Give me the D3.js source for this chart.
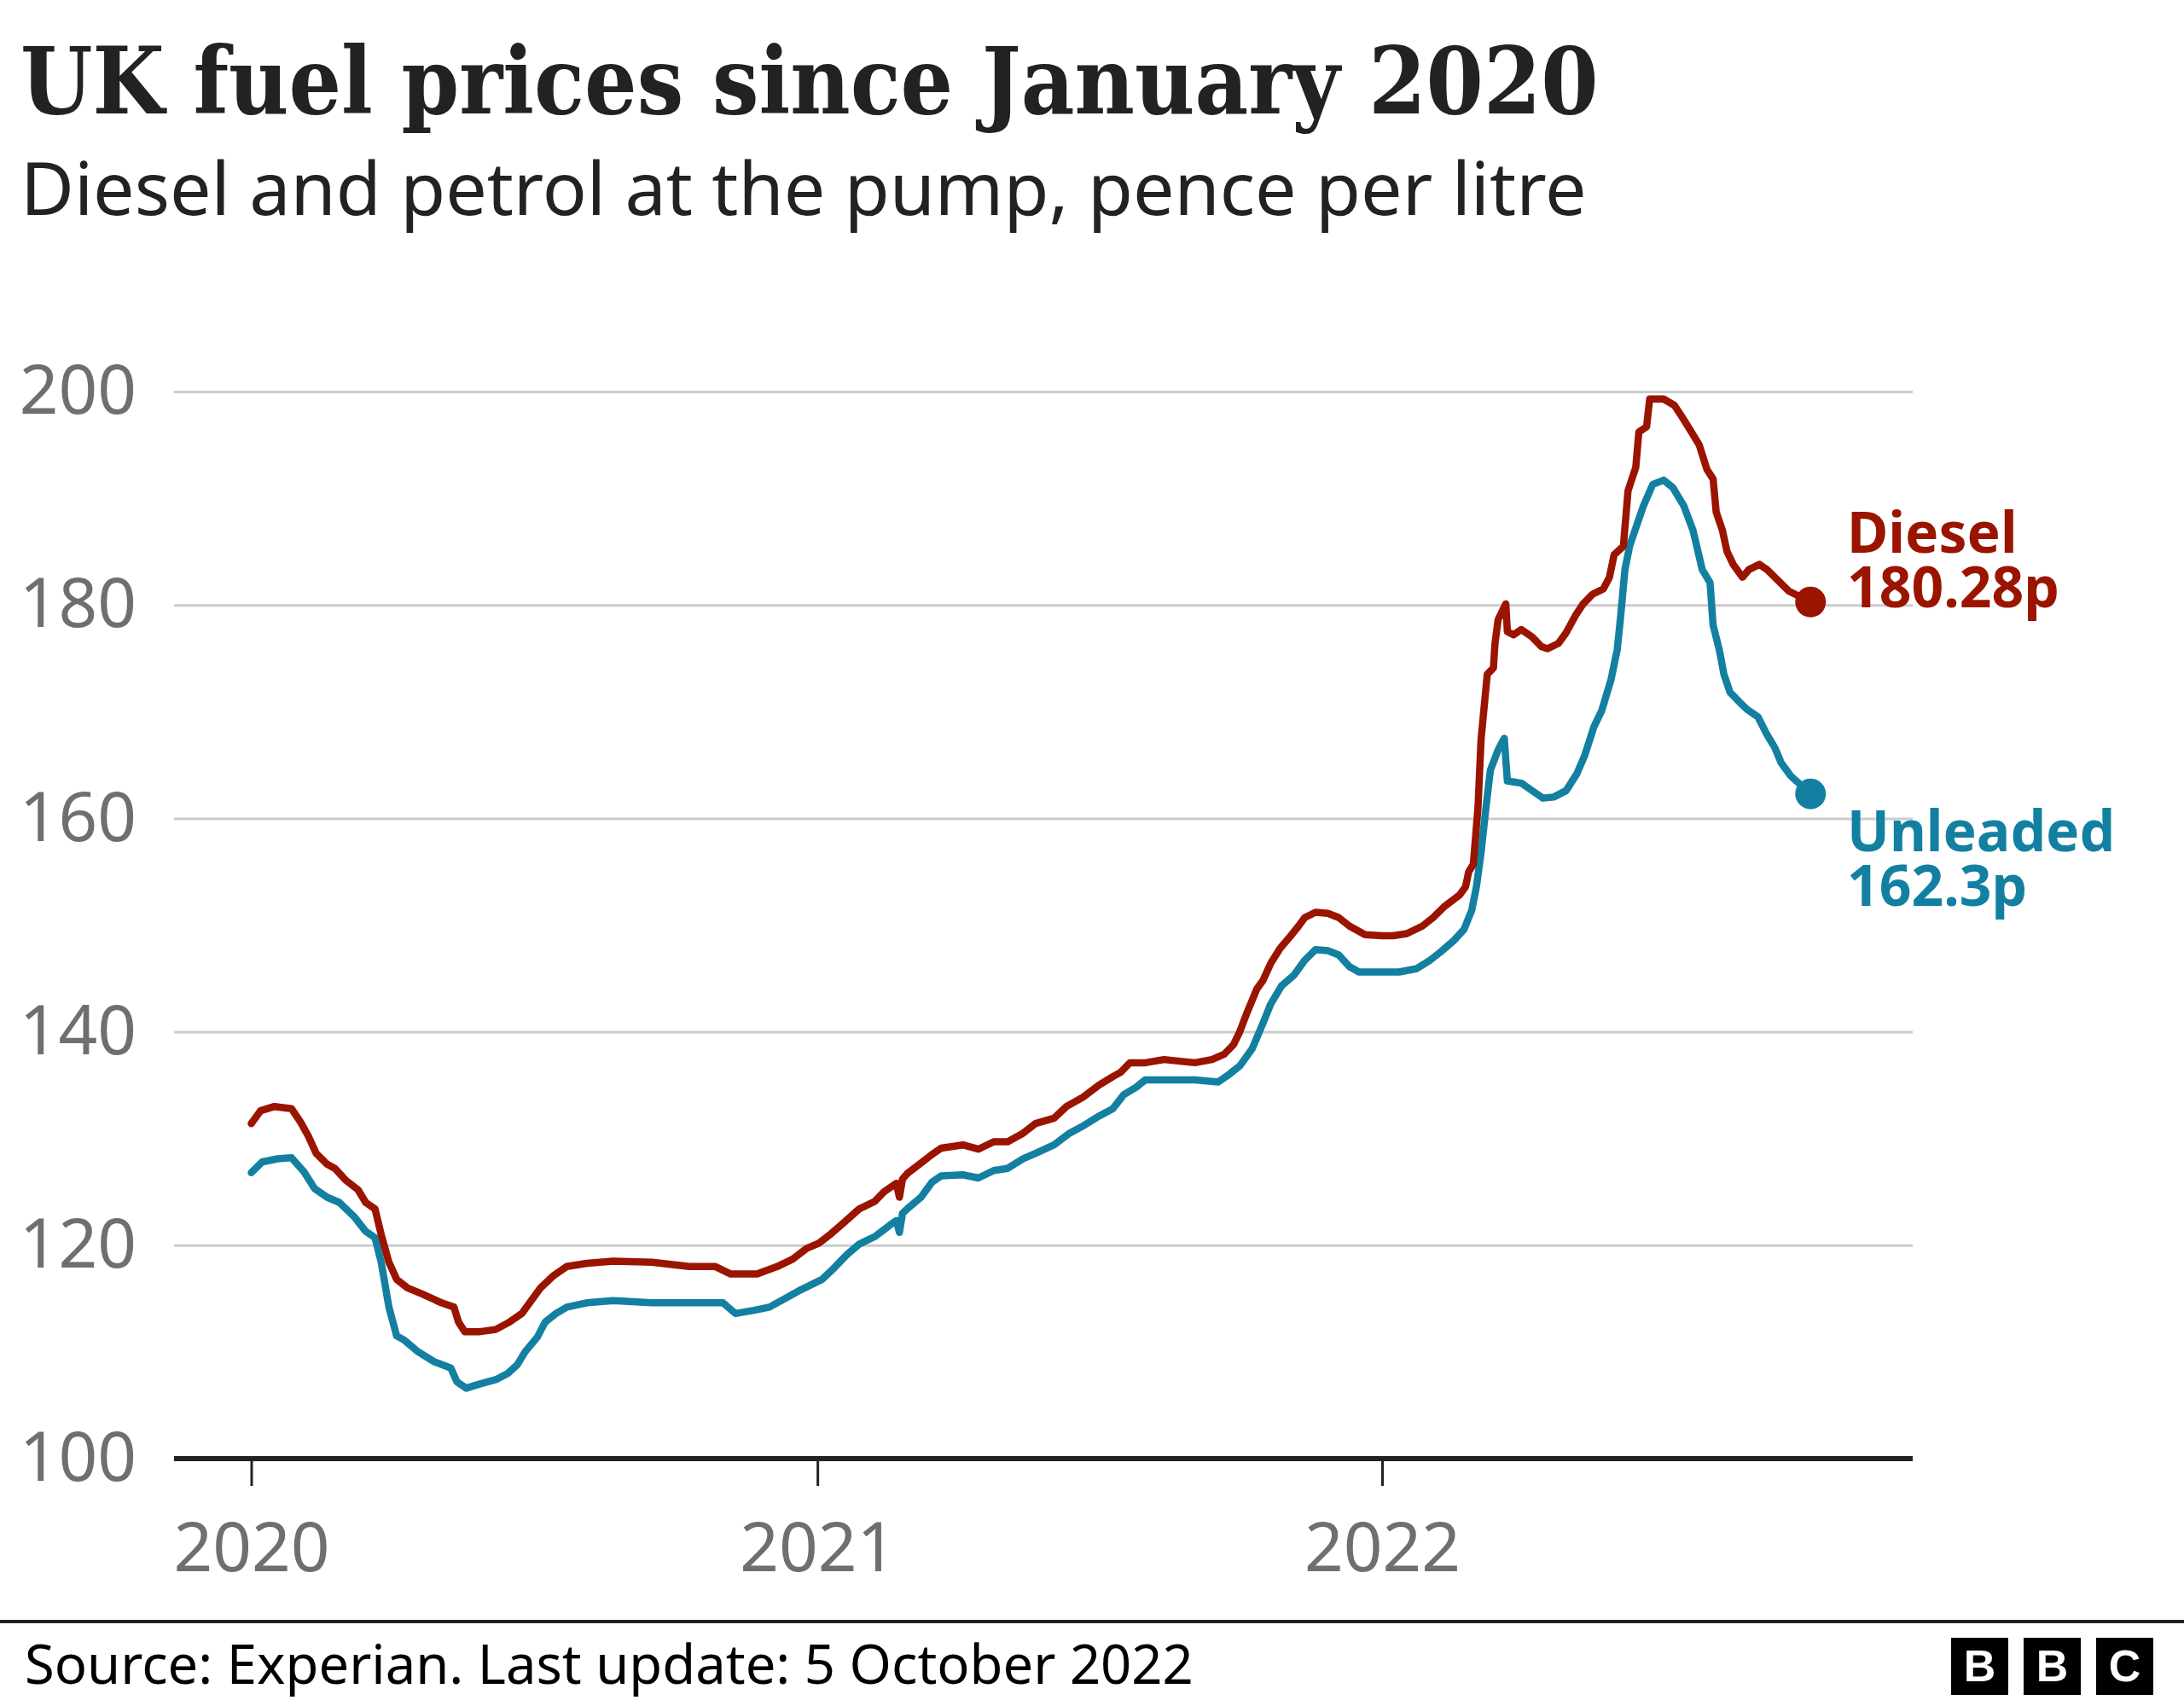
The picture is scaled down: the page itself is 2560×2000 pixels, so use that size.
<!DOCTYPE html>
<html><head><meta charset="utf-8">
<script src="https://cdn.jsdelivr.net/npm/d3@7"></script>
<style>body{margin:0;background:#fff}</style>
</head><body>
<svg id="c" width="2560" height="2000"></svg>
<script>
const dieselDates = ["2020-01-01","2020-01-07","2020-01-16","2020-01-27","2020-02-02","2020-02-07","2020-02-12","2020-02-19","2020-02-24","2020-03-02","2020-03-10","2020-03-15","2020-03-21","2020-03-25","2020-03-30","2020-04-04","2020-04-11","2020-04-21","2020-05-03","2020-05-11","2020-05-14","2020-05-18","2020-05-28","2020-06-07","2020-06-16","2020-06-24","2020-06-29","2020-07-06","2020-07-14","2020-07-23","2020-08-05","2020-08-22","2020-09-16","2020-10-10","2020-10-27","2020-11-06","2020-11-23","2020-12-06","2020-12-16","2020-12-25",
"2021-01-02","2021-01-10","2021-01-18","2021-01-28","2021-02-07","2021-02-13","2021-02-21","2021-02-23","2021-02-25","2021-02-28","2021-03-09","2021-03-16","2021-03-22","2021-04-05","2021-04-15","2021-04-25","2021-05-04","2021-05-14","2021-05-22","2021-06-03","2021-06-11","2021-06-22","2021-07-02","2021-07-11","2021-07-16","2021-07-22","2021-08-01","2021-08-13","2021-09-02","2021-09-13","2021-09-21","2021-09-27","2021-10-01","2021-10-06","2021-10-12","2021-10-16","2021-10-21","2021-10-27","2021-11-03","2021-11-08","2021-11-12","2021-11-19","2021-11-27","2021-12-04","2021-12-11","2021-12-21",
"2022-01-01","2022-01-08","2022-01-17","2022-01-27","2022-02-03","2022-02-10","2022-02-20","2022-02-24","2022-02-26","2022-03-01","2022-03-04","2022-03-06","2022-03-10","2022-03-14","2022-03-15","2022-03-17","2022-03-20","2022-03-22","2022-03-23","2022-03-27","2022-04-01","2022-04-08","2022-04-14","2022-04-18","2022-04-25","2022-04-30","2022-05-06","2022-05-11","2022-05-17","2022-05-24","2022-05-28","2022-05-31","2022-06-06","2022-06-09","2022-06-14","2022-06-16","2022-06-21","2022-06-23","2022-07-02","2022-07-09","2022-07-14","2022-07-20","2022-07-25","2022-07-30","2022-08-03","2022-08-05","2022-08-09","2022-08-12","2022-08-16","2022-08-22","2022-08-26","2022-09-02","2022-09-07","2022-09-21","2022-10-05"];
const dieselPrices = [131.4,132.6,133.0,132.8,131.5,130.2,128.6,127.6,127.2,126.1,125.2,124.0,123.4,121.0,118.4,116.8,116.0,115.4,114.6,114.2,112.8,111.9,111.9,112.1,112.8,113.6,114.6,116.0,117.1,118.0,118.3,118.5,118.4,118.0,118.0,117.3,117.3,118.0,118.7,119.7,
120.2,121.1,122.1,123.4,124.1,125.0,125.8,124.5,126.2,126.7,127.7,128.5,129.1,129.4,129.0,129.7,129.7,130.5,131.4,131.9,133.0,133.9,135.0,135.8,136.2,137.1,137.1,137.4,137.1,137.4,137.9,138.8,140.0,141.9,144.0,144.8,146.4,147.8,149.0,149.9,150.7,151.2,151.1,150.7,149.9,149.1,
149.0,149.0,149.2,149.9,150.7,151.7,152.8,153.6,155.0,155.7,161.0,167.4,173.5,174.1,176.4,178.6,179.5,180.1,177.5,177.2,177.7,177.0,176.1,175.9,176.4,177.4,179.0,180.1,181.0,181.5,182.6,184.7,185.5,190.7,192.9,196.2,196.7,199.3,199.3,198.7,197.6,196.2,195.0,192.7,191.8,188.7,187.0,185.0,183.8,182.6,183.3,183.8,183.3,181.3,180.28];

const unleadedDates = ["2020-01-01","2020-01-08","2020-01-18","2020-01-27","2020-02-04","2020-02-11","2020-02-19","2020-02-27","2020-03-08","2020-03-15","2020-03-21","2020-03-25","2020-03-30","2020-04-04","2020-04-09","2020-04-18","2020-04-28","2020-05-09","2020-05-13","2020-05-19","2020-05-28","2020-06-07","2020-06-15","2020-06-21","2020-06-26","2020-07-04","2020-07-09","2020-07-16","2020-07-23","2020-08-05","2020-08-22","2020-09-16","2020-10-10","2020-11-01","2020-11-09","2020-11-21","2020-12-01","2020-12-11","2020-12-21",
"2021-01-04","2021-01-12","2021-01-20","2021-01-28","2021-02-07","2021-02-17","2021-02-21","2021-02-23","2021-02-25","2021-02-28","2021-03-09","2021-03-16","2021-03-22","2021-04-05","2021-04-15","2021-04-25","2021-05-04","2021-05-14","2021-05-22","2021-06-03","2021-06-13","2021-06-22","2021-07-02","2021-07-11","2021-07-18","2021-07-26","2021-08-01","2021-08-13","2021-09-02","2021-09-17","2021-09-24","2021-10-01","2021-10-09","2021-10-16","2021-10-21","2021-10-28","2021-11-05","2021-11-12","2021-11-19","2021-11-27","2021-12-04","2021-12-11","2021-12-17","2021-12-30",
"2022-01-12","2022-01-23","2022-02-01","2022-02-08","2022-02-16","2022-02-23","2022-02-28","2022-03-03","2022-03-06","2022-03-09","2022-03-12","2022-03-17","2022-03-21","2022-03-23","2022-04-01","2022-04-08","2022-04-15","2022-04-22","2022-04-30","2022-05-07","2022-05-12","2022-05-18","2022-05-23","2022-05-29","2022-06-02","2022-06-04","2022-06-07","2022-06-10","2022-06-14","2022-06-19","2022-06-25","2022-07-02","2022-07-08","2022-07-15","2022-07-21","2022-07-27","2022-08-01","2022-08-03","2022-08-07","2022-08-10","2022-08-14","2022-08-20","2022-08-25","2022-09-01","2022-09-07","2022-09-12","2022-09-16","2022-09-22","2022-10-05"];
const unleadedPrices = [126.8,127.8,128.1,128.2,126.9,125.3,124.5,124.0,122.6,121.3,120.7,118.4,114.2,111.5,111.1,110.0,109.1,108.5,107.2,106.6,107.0,107.4,108.0,108.8,110.0,111.4,112.8,113.6,114.2,114.6,114.8,114.6,114.6,114.6,113.6,113.9,114.2,115.0,115.8,
116.8,117.9,119.1,120.1,120.8,121.9,122.3,121.2,123.0,123.4,124.5,125.9,126.5,126.6,126.3,127.0,127.2,128.1,128.6,129.4,130.5,131.2,132.1,132.8,134.1,134.8,135.5,135.5,135.5,135.3,136.0,136.8,138.4,140.8,142.6,144.3,145.3,146.7,147.7,147.6,147.2,146.1,145.6,145.6,
145.6,145.9,146.7,147.5,148.5,149.6,151.4,153.6,156.8,160.8,164.5,166.4,167.5,163.5,163.3,162.6,161.9,162.0,162.6,164.2,165.9,168.6,170.1,173.0,175.8,178.6,183.3,185.5,187.2,189.3,191.3,191.7,191.0,189.3,187.0,183.3,182.1,178.1,175.8,173.5,171.8,170.9,170.2,169.5,167.8,166.6,165.2,164.0,162.3];

const yTicks = [100,120,140,160,180,200];
const xTickLabels = ["2020","2021","2022"];
const seriesNames = ["Diesel","Unleaded"];
const endLabels = ["180.28p","162.3p"];

const title = "UK fuel prices since January 2020";
const subtitle = "Diesel and petrol at the pump, pence per litre";
const source = "Source: Experian. Last update: 5 October 2022";

const COL_D = "#9a1400", COL_U = "#1380a1";
const SANS = "'Noto Sans', 'Open Sans', sans-serif";

const svg = d3.select("#c");
svg.append("rect").attr("width",2560).attr("height",2000).attr("fill","#fff");

const parse = d3.utcParse("%Y-%m-%d");
const x = d3.scaleUtc().domain([parse("2020-01-01"), parse("2022-01-01")]).range([294.5, 1620]);
const y = d3.scaleLinear().domain([100,200]).range([1710,459]);
const X0 = 204, X1 = 2242;

function fitText(sel, target) {
  const w = sel.node().getComputedTextLength();
  const fs = parseFloat(sel.attr("font-size"));
  sel.attr("font-size", fs * target / w);
}

// Title and subtitle
const t = svg.append("text").attr("x",24).attr("y",133).text(title)
  .attr("font-family","'DejaVu Serif Condensed', 'DejaVu Serif', serif")
  .attr("font-stretch","condensed").attr("font-weight","bold")
  .attr("font-size",100).attr("fill","#222");
fitText(t, 1850);
const st = svg.append("text").attr("x",24).attr("y",252).text(subtitle)
  .attr("font-family",SANS).attr("font-size",72).attr("fill","#222");
fitText(st, 1836);

// Y axis with gridlines
const yAxis = svg.append("g").attr("transform",`translate(${X0},0)`)
  .call(d3.axisLeft(y).tickValues(yTicks).tickSize(-(X1-X0)).tickPadding(44).tickFormat(d3.format("d")));
yAxis.select(".domain").remove();
yAxis.selectAll(".tick line").attr("stroke","#cccccc").attr("stroke-width",3)
  .attr("opacity", d => d === 100 ? 0 : 1);
yAxis.selectAll(".tick text").attr("font-family",SANS).attr("font-size",80).attr("fill","#6e6e73");

// X axis
const xAxis = svg.append("g").attr("transform",`translate(0,${y(100)})`)
  .call(d3.axisBottom(x).tickValues(xTickLabels.map(s => parse(s + "-01-01")))
    .tickFormat(d3.utcFormat("%Y")).tickSize(32).tickPadding(43));
xAxis.select(".domain").remove();
xAxis.selectAll(".tick line").attr("stroke","#222").attr("stroke-width",3);
xAxis.selectAll(".tick text").attr("font-family",SANS).attr("font-size",80).attr("fill","#6e6e73");

// Baseline axis
svg.append("line").attr("x1",X0).attr("x2",X1).attr("y1",y(100)).attr("y2",y(100))
  .attr("stroke","#222").attr("stroke-width",6);

// Lines
const diesel = dieselDates.map((d,i) => ({date: parse(d), v: dieselPrices[i]}));
const unleaded = unleadedDates.map((d,i) => ({date: parse(d), v: unleadedPrices[i]}));
const line = d3.line().x(d => x(d.date)).y(d => y(d.v));

svg.append("path").datum(unleaded).attr("d",line).attr("fill","none")
  .attr("stroke",COL_U).attr("stroke-width",8.5).attr("stroke-linejoin","round").attr("stroke-linecap","round");
svg.append("path").datum(diesel).attr("d",line).attr("fill","none")
  .attr("stroke",COL_D).attr("stroke-width",8.5).attr("stroke-linejoin","round").attr("stroke-linecap","round");

const lastD = diesel[diesel.length-1], lastU = unleaded[unleaded.length-1];
svg.append("circle").attr("cx",x(lastD.date)).attr("cy",y(lastD.v)).attr("r",18).attr("fill",COL_D);
svg.append("circle").attr("cx",x(lastU.date)).attr("cy",y(lastU.v)).attr("r",18).attr("fill",COL_U);

// End labels
const lblX = 2165;
function endLabel(txt, yy, col) {
  svg.append("text").attr("x",lblX).attr("y",yy).text(txt)
    .attr("font-family",SANS).attr("font-weight","bold").attr("font-size",66).attr("fill",col);
}
endLabel(seriesNames[0], 648, COL_D);
endLabel(endLabels[0], 712, COL_D);
endLabel(seriesNames[1], 998, COL_U);
endLabel(endLabels[1], 1062, COL_U);

// Footer
svg.append("rect").attr("x",0).attr("y",1899).attr("width",2560).attr("height",4).attr("fill","#222");
const src = svg.append("text").attr("x",29).attr("y",1974).text(source)
  .attr("font-family",SANS).attr("font-size",64).attr("fill","#000");
fitText(src, 1370);

// BBC logo
["B","B","C"].forEach((ch,i) => {
  const bx = 2287 + i*85;
  svg.append("rect").attr("x",bx).attr("y",1920).attr("width",67).attr("height",67).attr("fill","#000");
  svg.append("text").attr("x",bx+33.5).attr("y",1971).attr("text-anchor","middle")
    .attr("font-family","'Liberation Sans', Arial, sans-serif").attr("font-weight","bold")
    .attr("font-size",52).attr("fill","#fff").text(ch);
});
</script>
</body></html>
